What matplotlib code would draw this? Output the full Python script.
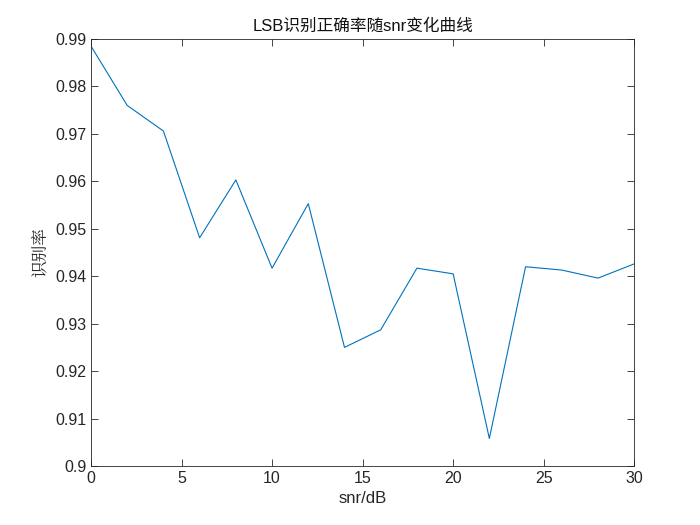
import numpy as np
import matplotlib.pyplot as plt

plt.rcParams['font.family'] = ['Liberation Sans', 'Noto Sans CJK SC', 'DejaVu Sans']

snr = [0, 2, 4, 6, 8, 10, 12, 14, 16, 18, 20, 22, 24, 26, 28, 30]
acc = [0.9885, 0.9760, 0.9706, 0.9481, 0.9603, 0.9417, 0.9553, 0.9250,
       0.9287, 0.9417, 0.9405, 0.9058, 0.9420, 0.9413, 0.9396, 0.9426]

fig = plt.figure(figsize=(7, 5.25), dpi=100)
ax = fig.add_axes([0.13, 0.1124, 0.776, 0.8133])
ax.plot(snr, acc, color='#0072BD', lw=0.8)

ax.set_xlim(0, 30)
ax.set_ylim(0.9, 0.99)
ax.set_xticks(np.arange(0, 31, 5))
ax.set_yticks(np.round(np.arange(0.9, 0.991, 0.01), 2))
ax.set_yticklabels([f"{v:g}" for v in np.round(np.arange(0.9, 0.991, 0.01), 2)])
ax.tick_params(direction='in', top=True, right=True, labelsize=11.5,
               colors='#262626', length=5, width=0.6)
for s in ax.spines.values():
    s.set_linewidth(0.6)
    s.set_color('#262626')

ax.set_xlabel('snr/dB', fontsize=12, color='#262626')
ax.set_ylabel('识别率', fontsize=12, color='#262626',
              family=['Noto Serif CJK SC', 'Noto Sans CJK SC'])
ax.set_title('LSB识别正确率随snr变化曲线', fontsize=12, color='#111111')

fig.savefig('out.png', dpi=100)
